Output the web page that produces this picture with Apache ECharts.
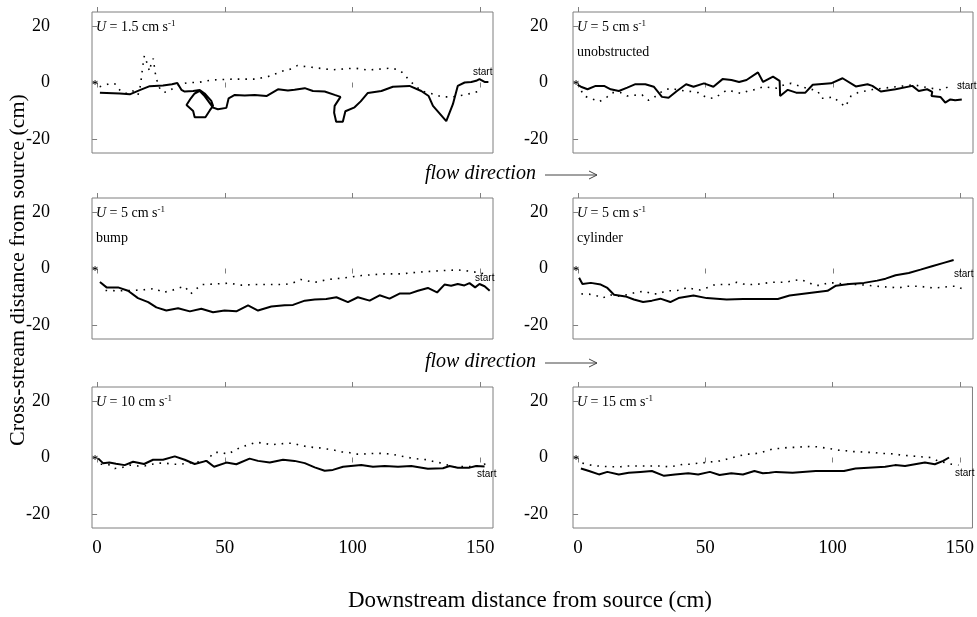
<!DOCTYPE html>
<html><head><meta charset="utf-8">
<script src="https://cdn.jsdelivr.net/npm/echarts@6/dist/echarts.min.js"></script>
<style>html,body{margin:0;padding:0;background:#fff}#c{width:977px;height:617px}</style>
</head><body><div id="c"></div>
<script>
// ---------- data ----------
const xTicks = [0, 50, 100, 150];
const yTicks = [-20, 0, 20];
const speeds = ['1.5', '5', '5', '5', '10', '15'];
const conditions = ['', 'unobstructed', 'bump', 'cylinder', '', ''];
const sourcePoint = [-0.8, 0];

// U = 1.5 cm/s
const solidA = [[1.1,-3.6],[8.9,-3.9],[12.8,-4.2],[16.7,-2.7],[20.6,-1.3],[25.8,-1.1],[29.3,-0.6],[31.4,-0.2],[33.0,-2.6],[34.3,-3.2],[37.6,-3.0],[40.2,-2.7],[42.1,-3.9],[44.7,-6.5],[45.4,-8.3],[44.1,-9.9],[42.4,-12.3],[38.2,-12.3],[37.6,-10.1],[35.0,-8.0],[36.7,-5.6],[38.2,-3.9],[40.2,-3.0],[42.1,-4.8],[45.4,-8.9],[47.3,-9.5],[50.6,-9.0],[51.5,-5.6],[53.9,-4.4],[57.8,-4.6],[61.7,-4.4],[66.3,-4.8],[70.8,-2.4],[74.7,-2.8],[77.3,-2.6],[81.3,-2.0],[84.5,-3.0],[89.1,-3.2],[93.0,-4.4],[95.3,-5.1],[93.0,-8.3],[92.8,-10.7],[93.6,-13.9],[96.2,-13.9],[97.2,-10.2],[97.6,-9.6],[100.8,-8.8],[103.2,-6.7],[106.0,-3.7],[111.3,-3.0],[115.8,-1.5],[122.3,-1.2],[126.9,-3.0],[129.8,-4.8],[131.5,-8.3],[136.7,-13.7],[139.3,-7.7],[141.2,-1.2],[143.9,0],[146.5,0.2],[148.4,0.6],[149.7,1.2],[151.7,0.2],[153.2,0.2]];
const dottedA = [[1,-1.5],[3,-1],[5,-0.3],[7,-0.5],[8,-2],[10,-3.5],[12,-4],[14,-3],[16,-4.5],[17,-1],[17.5,3],[18,6.5],[18.5,9.5],[19.5,7],[20.5,4],[21,6],[22,8.5],[22.5,5],[23,2],[24,-1],[25,-3],[27,-3.5],[29,-2.5],[31,-1.5],[33,-0.5],[36,0],[39.5,0],[45,0.9],[53,1.2],[62,1.2],[67,2.1],[73,4.2],[76,4.8],[78.4,6],[84,5.4],[92,4.5],[101,5.1],[106,4.4],[115,5.1],[118,4.5],[120,3.2],[122,0.9],[127,-3],[132,-4.2],[135,-5.1],[139,-5.1],[144,-4.4],[150,-3]];

// U = 5 cm/s unobstructed
const solidB = [[-0.2,-0.8],[1.1,-1.5],[3.7,-2.4],[6.9,-1.2],[10.2,-1.2],[12.8,-2.4],[16.0,-3.0],[19.3,-1.8],[22.5,-0.6],[26.4,-0.6],[29.7,-1.5],[31.6,-3.6],[32.9,-5.1],[35.5,-5.4],[38.8,-3.0],[42.4,-0.6],[45.3,-1.5],[49.4,-0.3],[53.1,-1.5],[56.7,1.2],[60.2,0.9],[63.2,0.2],[66.1,0.9],[70.6,3.6],[72.6,0.2],[76.5,2.1],[79.1,0.6],[79.3,-4.8],[82.3,-2.6],[85.6,-3.6],[89.2,-3.6],[92.1,-0.8],[99.3,-0.3],[103.8,1.5],[109.0,-1.4],[113.6,-0.6],[115.5,-1.2],[118.8,-3.2],[124.6,-2.4],[131.2,-1.2],[133.7,-3.0],[137.0,-2.4],[139.0,-3.3],[138.7,-4.8],[142.2,-5.1],[144.1,-7.1],[146.1,-6.0],[148.0,-6.3],[150.6,-6.0]];
const dottedB = [[1.3,-3.0],[2.3,-4.8],[5.0,-5.6],[8.2,-6.8],[10.8,-5.6],[13.4,-3.6],[16.7,-3.6],[19.3,-4.8],[22.1,-4.5],[25.1,-4.4],[27.7,-6.3],[29.7,-5.4],[33.6,-2.7],[36.2,-2.1],[42.0,-3.0],[45.3,-3.3],[47.2,-3.6],[50.5,-5.4],[53.1,-5.6],[55.9,-4.2],[58.3,-2.7],[61.5,-3.3],[64.1,-3.9],[66.7,-3.0],[70.0,-2.4],[72.6,-1.5],[75.2,-1.8],[77.8,-2.0],[81.0,-0.8],[83.6,-0.3],[88.9,-1.8],[94.1,-3.0],[95.4,-5.6],[97.4,-5.6],[100.0,-5.1],[102.3,-6.8],[104.9,-8.6],[107.1,-4.8],[109.8,-3.6],[112.8,-3.0],[115.6,-2.5],[122,-1.8],[131.8,-0.8],[137,-1.8],[143.0,-2.7],[145.8,-1.2]];

// U = 5 cm/s bump
const solidC = [[1.1,-4.8],[3.7,-6.7],[8.2,-6.7],[12.1,-7.9],[16.0,-10.5],[20.0,-11.9],[23.2,-13.8],[27.1,-14.9],[31.7,-14.1],[36.3,-15.2],[40.8,-14.3],[45.4,-15.5],[49.9,-14.9],[54.5,-15.2],[59.1,-13.1],[63.0,-14.9],[68.2,-13.5],[73.4,-13.0],[76.7,-12.9],[81.3,-11.4],[85.2,-11.0],[89.7,-10.8],[93.7,-10.2],[98.2,-11.9],[102.1,-10.2],[106.7,-11.4],[110.6,-9.5],[114.5,-10.7],[118.4,-8.9],[122.3,-8.9],[125.6,-7.9],[129.5,-6.9],[133.1,-8.5],[136.0,-5.7],[138.6,-6.1],[141.2,-5.5],[143.8,-6.0],[145.8,-5.2],[148.0,-6.7],[149.7,-5.5],[151.7,-6.3],[153.7,-7.9]];
const dottedC = [[3.3,-7.8],[8.2,-7.9],[13.4,-7.8],[18.6,-7.5],[22.9,-7.1],[25.6,-8.5],[28.8,-7.9],[31.7,-7.0],[34.3,-6.3],[36.6,-9.0],[38.8,-7.3],[40.8,-5.7],[46.0,-5.5],[51.5,-5.2],[56.5,-5.9],[61.7,-5.7],[67.6,-5.7],[73.4,-5.7],[76.7,-5.1],[79.7,-3.9],[85.2,-4.9],[90.5,-3.9],[97.0,-3.3],[103.5,-2.5],[112.6,-1.9],[119.1,-1.9],[125.6,-1.3],[130.8,-1.0],[136.0,-0.7],[141.2,-0.5],[146.4,-1.0],[151.7,-1.9]];

// U = 5 cm/s cylinder
const solidD = [[0.4,-3.3],[1.7,-5.5],[5.0,-5.1],[8.9,-5.7],[11.5,-6.9],[14.1,-9.3],[18.6,-9.9],[21.9,-11.0],[25.5,-11.9],[29.0,-11.4],[32.3,-10.7],[36.2,-11.9],[39.4,-10.5],[45.3,-9.6],[50.5,-10.5],[58.3,-11.0],[64.8,-10.8],[71.3,-10.8],[78.4,-10.8],[83.0,-9.6],[90.8,-8.7],[97.9,-7.9],[101.2,-6.1],[106.4,-5.5],[112.2,-5.1],[117.4,-4.3],[120.7,-3.6],[124.6,-2.4],[129.8,-1.6],[134.4,-0.4],[138.9,0.8],[143.5,2.0],[147.4,3.0]];
const dottedD = [[1.3,-9.0],[4.3,-9.1],[6.9,-9.5],[9.5,-10.5],[12.5,-9.3],[15.4,-9.9],[19.3,-9.3],[23.2,-8.3],[26.4,-8.1],[29.0,-9.0],[31.6,-9.0],[34.6,-7.9],[37.5,-7.9],[40.7,-7.6],[42.7,-6.7],[45.3,-7.3],[47.9,-7.6],[51.1,-6.7],[53.7,-5.7],[59.6,-5.7],[62.2,-4.9],[64.8,-5.5],[68.0,-5.7],[71.3,-5.5],[75.8,-4.9],[81.4,-4.9],[84.3,-4.3],[87.1,-3.9],[90.1,-4.8],[92.7,-6.0],[95.4,-6.0],[97.9,-5.1],[101.2,-5.1],[103.8,-5.5],[110.3,-5.7],[117.4,-6.3],[123.3,-6.7],[125.9,-6.9],[128.5,-6.3],[134.4,-6.3],[136.9,-6.7],[139.6,-6.9],[142.8,-6.7],[146.1,-6.3],[148.7,-6.3],[150.9,-7.3]];

// U = 10 cm/s
const solidE = [[0.4,-0.3],[2.3,-2.0],[4.8,-1.8],[7.4,-2.2],[10.8,-2.7],[14.1,-1.5],[18.4,-2.3],[21.9,-0.8],[25.8,-0.8],[30.4,0.4],[34.3,-0.8],[38.2,-2.3],[42.8,-1.2],[45.8,-3.3],[50.6,-1.8],[54.5,-2.4],[59.7,-0.4],[63.0,-1.2],[67.6,-1.8],[72.8,-0.8],[77.3,-1.2],[81.3,-2.0],[85.2,-3.5],[89.1,-4.7],[92.3,-4.4],[96.3,-3.3],[103.4,-2.7],[108.0,-3.3],[112.6,-3.0],[117.8,-3.3],[123.0,-3.0],[129.5,-4.0],[135.4,-3.8],[138.0,-3.0],[141.2,-3.6],[145.8,-3.6],[148.4,-3.0],[151.7,-3.2]];
const dottedE = [[1.4,-2.4],[4.3,-2.4],[6.9,-3.9],[9.5,-3.6],[12.8,-2.7],[16.0,-3.0],[18.6,-3.0],[21.3,-2.4],[23.9,-2.0],[26.7,-2.0],[29.8,-2.4],[32.4,-2.4],[35.6,-2.0],[40.2,-1.5],[42.8,-1.2],[45.8,1.8],[48.4,1.8],[51.3,1.2],[54.1,2.7],[56.7,3.8],[59.4,4.5],[62.3,5.4],[65.6,5.0],[68.2,4.5],[70.8,4.8],[74.1,5.0],[76.7,5.1],[79.0,4.4],[81.9,3.9],[84.5,3.6],[87.1,3.4],[90.1,3.0],[93.0,2.6],[95.8,2.0],[98.4,1.8],[101.4,1.2],[104.0,1.2],[107.0,1.4],[109.7,1.5],[112.6,1.4],[115.4,1.2],[118.4,0.6],[121.0,0.2],[123.6,-0.3],[126.6,-0.6],[129.2,-0.8],[132.1,-1.5],[135.0,-2.0],[137.3,-2.7],[139.9,-3.3],[144.5,-3.2],[147.8,-3.3],[154.0,-1.8]];

// U = 15 cm/s
const solidF = [[1.1,-3.9],[4.3,-4.8],[8.2,-6.0],[11.5,-5.1],[16.0,-6.0],[19.9,-5.4],[24.5,-5.1],[29.0,-4.8],[33.8,-6.5],[38.1,-6.0],[43.3,-5.6],[47.2,-6.0],[51.8,-5.1],[55.6,-6.2],[60.2,-5.6],[64.8,-6.0],[69.3,-4.8],[72.6,-5.6],[75.2,-5.4],[77.8,-5.1],[84.3,-5.4],[88.2,-5.1],[93.4,-4.8],[104.5,-4.8],[109.0,-3.9],[120.7,-3.3],[124.6,-2.7],[128.5,-3.0],[136.3,-1.8],[140.2,-2.4],[143.5,-1.2],[145.8,0.0]];
const dottedF = [[1.7,-2.0],[4.3,-2.6],[7.6,-3.0],[10.8,-3.2],[13.8,-3.3],[16.7,-3.3],[19.3,-3.0],[25.1,-3.0],[32.9,-3.0],[35.5,-3.3],[38.1,-3.0],[41.4,-2.4],[44.0,-2.4],[47.2,-2.0],[49.9,-1.8],[52.8,-1.5],[55.7,-1.2],[58.3,-0.6],[60.9,0.0],[63.5,0.6],[66.1,1.2],[68.7,1.2],[72.0,1.8],[74.5,2.4],[77.1,3.2],[79.8,3.2],[82.7,3.6],[85.6,3.6],[88.4,3.8],[91.4,3.9],[94.0,3.8],[96.9,3.4],[99.8,3.0],[102.4,2.6],[105.3,2.4],[108.2,2.1],[110.8,2.0],[113.4,1.8],[116.3,1.8],[119.0,1.4],[121.9,1.4],[124.7,1.2],[127.3,0.8],[130.3,0.6],[132.9,0.4],[135.5,0.2],[138.5,0.0],[141.4,-1.2],[146.9,-2.4],[149.5,-2.7]];

const solidSets = [solidA, solidB, solidC, solidD, solidE, solidF];
const dottedSets = [dottedA, dottedB, dottedC, dottedD, dottedE, dottedF];

// ---------- layout ----------
const SERIF = "'Liberation Serif', 'Times New Roman', serif";
const SANS = "'Liberation Sans', Arial, sans-serif";
const frameColor = '#7f7f7f';
const grids = [
  {left: 92, top: 12, width: 401, height: 141},
  {left: 573, top: 12, width: 400, height: 141},
  {left: 92, top: 198, width: 401, height: 141},
  {left: 573, top: 198, width: 400, height: 141},
  {left: 92, top: 387, width: 401, height: 141},
  {left: 573, top: 387, width: 400, height: 141}
];
const startPos = [[473, 67], [957, 81], [475, 273], [954, 269], [477, 469], [955, 468]];
const asteriskPath = 'path://M0,-5L0,5M-4.33,-2.5L4.33,2.5M-4.33,2.5L4.33,-2.5';

const chart = echarts.init(document.getElementById('c'), null, {renderer: 'canvas'});
const xAxes = [], yAxes = [], series = [], graphics = [];

grids.forEach((g, i) => {
  g.show = true; g.borderColor = frameColor; g.borderWidth = 1; g.backgroundColor = '#fff';
  const bottomRow = i >= 4;
  const leftCol = i % 2 === 0;
  xAxes.push({
    type: 'value', gridIndex: i, position: 'bottom', min: -2, max: 155,
    axisLine: {show: false}, splitLine: {show: false},
    axisTick: {show: true, inside: false, length: 5, lineStyle: {color: frameColor}, customValues: xTicks},
    axisLabel: {show: bottomRow, customValues: xTicks, margin: 11, color: '#000', fontFamily: SERIF, fontSize: 19}
  });
  xAxes.push({
    type: 'value', gridIndex: i, position: 'top', min: -2, max: 155,
    axisLine: {show: false}, splitLine: {show: false},
    axisTick: {show: true, inside: false, length: 5, lineStyle: {color: frameColor}, customValues: xTicks},
    axisLabel: {show: false}
  });
  yAxes.push({
    type: 'value', gridIndex: i, min: -25, max: 25,
    axisLine: {show: false}, splitLine: {show: false},
    axisTick: {show: true, inside: false, length: 5, lineStyle: {color: frameColor}, customValues: yTicks},
    axisLabel: {show: true, customValues: yTicks, margin: leftCol ? 42 : 25, color: '#000', fontFamily: SERIF, fontSize: 18}
  });
  series.push({
    type: 'line', xAxisIndex: 2 * i, yAxisIndex: i, data: dottedSets[i], showSymbol: false, symbol: 'none',
    lineStyle: {color: '#000', width: 1.6, type: [1.6, 6], cap: 'butt'}, silent: true, z: 2
  });
  series.push({
    type: 'line', xAxisIndex: 2 * i, yAxisIndex: i, data: solidSets[i], showSymbol: false, symbol: 'none',
    lineStyle: {color: '#000', width: 2}, silent: true, z: 3
  });
  series.push({
    type: 'scatter', xAxisIndex: 2 * i, yAxisIndex: i, data: [sourcePoint], symbol: asteriskPath, symbolSize: 5,
    itemStyle: {color: 'none', borderColor: '#000', borderWidth: 1}, silent: true, z: 4
  });
  // panel labels
  graphics.push({
    type: 'text', left: g.left + 4, top: g.top + 7, z: 10,
    style: {
      text: '{i|U} = ' + speeds[i] + ' cm s{s|-1}', fontFamily: SERIF, fontSize: 14, fill: '#000',
      rich: {i: {fontStyle: 'italic', fontFamily: SERIF, fontSize: 14}, s: {fontSize: 9, fontFamily: SERIF, verticalAlign: 'top', padding: [0, 0, 8, 0]}}
    }
  });
  if (conditions[i]) {
    graphics.push({type: 'text', left: g.left + 4, top: g.top + 33, z: 10,
      style: {text: conditions[i], fontFamily: SERIF, fontSize: 14, fill: '#000'}});
  }
  graphics.push({type: 'text', left: startPos[i][0], top: startPos[i][1], z: 10,
    style: {text: 'start', fontFamily: SANS, fontSize: 10, fill: '#000'}});
});

// flow direction annotations
[175, 363].forEach(y => {
  graphics.push({type: 'text', left: 425, top: y - 11, style: {text: 'flow direction', fontFamily: SERIF, fontStyle: 'italic', fontSize: 20, fill: '#000'}});
  graphics.push({type: 'line', shape: {x1: 545, y1: y, x2: 597, y2: y}, style: {stroke: '#444', lineWidth: 1}});
  graphics.push({type: 'polyline', shape: {points: [[589, y - 4], [597, y], [589, y + 4]]}, style: {stroke: '#444', lineWidth: 1, fill: null}});
});
// axis titles
graphics.push({type: 'text', x: 18, y: 270, rotation: Math.PI / 2, z: 10,
  style: {text: 'Cross-stream distance from source (cm)', fontFamily: SERIF, fontSize: 22, fill: '#000', align: 'center', verticalAlign: 'middle'}});
graphics.push({type: 'text', x: 530, y: 601, z: 10,
  style: {text: 'Downstream distance from source (cm)', fontFamily: SERIF, fontSize: 23, fill: '#000', align: 'center', verticalAlign: 'middle'}});

chart.setOption({
  animation: false,
  backgroundColor: '#fff',
  grid: grids,
  xAxis: xAxes,
  yAxis: yAxes,
  series: series,
  graphic: graphics
});
</script>
</body></html>
